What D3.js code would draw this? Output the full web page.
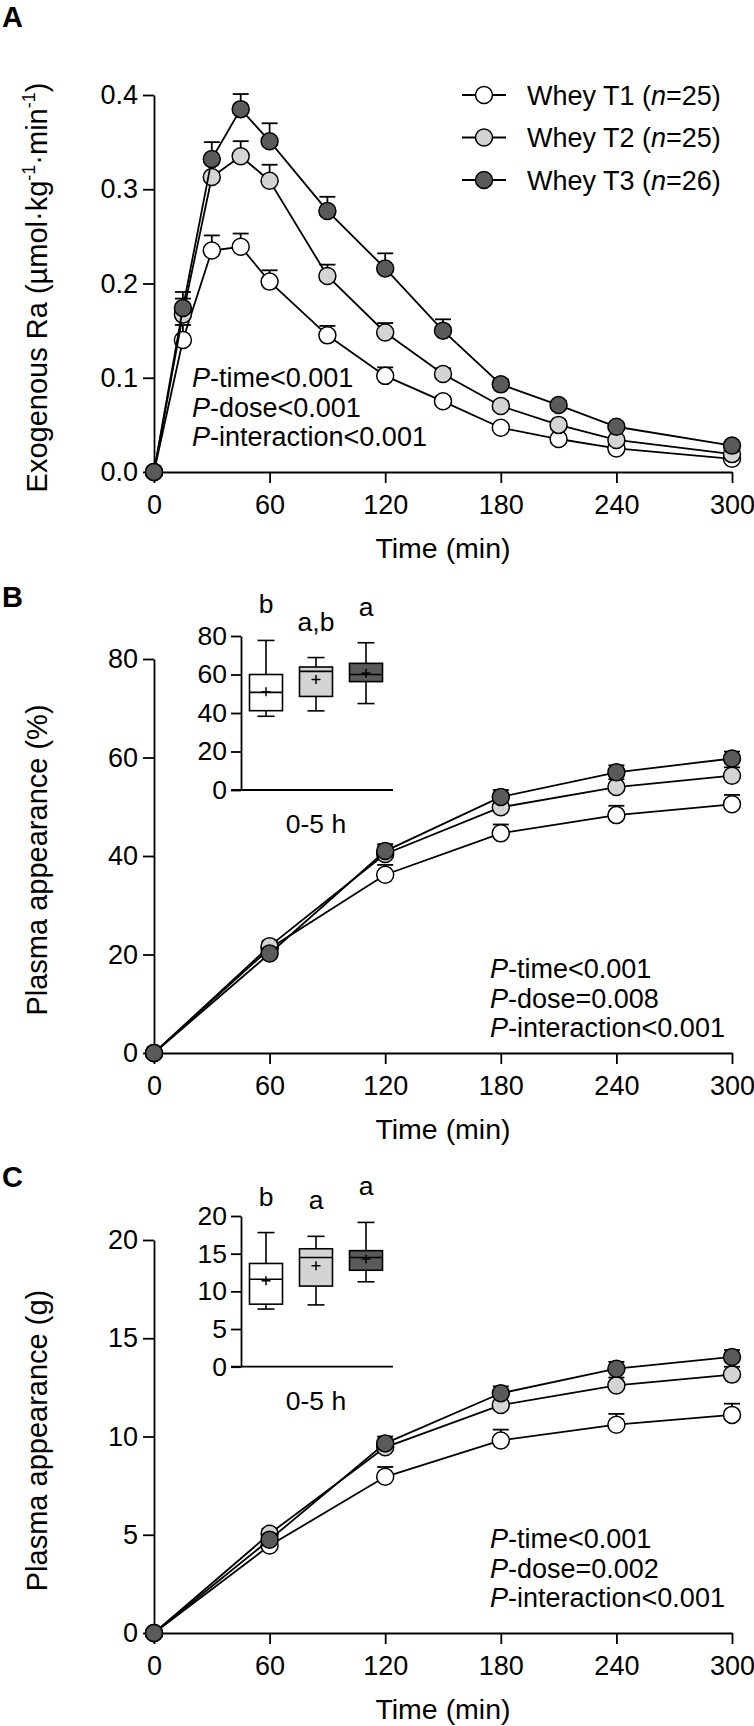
<!DOCTYPE html>
<html>
<head>
<meta charset="utf-8">
<script src="https://cdn.jsdelivr.net/npm/d3@7"></script>
<style>
  body { margin: 0; background: #fff; }
  svg { display: block; font-family: "Liberation Sans", Arial, sans-serif; }
  .axis path, .axis line { stroke: #000; stroke-width: 1.8px; }
  .axis text { fill: #000; }
</style>
</head>
<body>
<script>
// ---- data ----
const groups = ['Whey T1', 'Whey T2', 'Whey T3'];
const groupN = [25, 25, 26];
const fills = ['#ffffff', '#d4d4d4', '#5a5a5a'];

// panel A: exogenous Ra
const timesA = [0, 15, 30, 45, 60, 90, 120, 150, 180, 210, 240, 300];
const raT1 = [0, 0.140, 0.235, 0.239, 0.202, 0.145, 0.102, 0.075, 0.047, 0.035, 0.025, 0.014];
const raT2 = [0, 0.167, 0.313, 0.335, 0.309, 0.208, 0.148, 0.104, 0.070, 0.050, 0.034, 0.019];
const raT3 = [0, 0.174, 0.332, 0.385, 0.351, 0.277, 0.216, 0.150, 0.093, 0.071, 0.048, 0.028];
const raSemT1 = [0, 0.016, 0.016, 0.014, 0.012, 0.010, 0.009, 0.005, 0.003, 0.003, 0.003, 0.002];
const raSemT2 = [0, 0.017, 0.017, 0.016, 0.017, 0.012, 0.010, 0.006, 0.005, 0.004, 0.003, 0.002];
const raSemT3 = [0, 0.017, 0.018, 0.016, 0.019, 0.015, 0.016, 0.012, 0.005, 0.004, 0.003, 0.002];

// panels B and C: cumulative plasma appearance
const timesBC = [0, 60, 120, 180, 240, 300];
const pctT1 = [0, 21.2, 36.2, 44.6, 48.3, 50.5];
const pctT2 = [0, 21.7, 40.4, 49.9, 54.0, 56.3];
const pctT3 = [0, 20.2, 41.0, 52.0, 57.0, 59.8];
const pctSemT1 = [0, 1.0, 2.0, 1.8, 1.9, 1.9];
const pctSemT2 = [0, 1.0, 1.5, 1.6, 1.6, 1.7];
const pctSemT3 = [0, 1.0, 1.4, 1.4, 1.4, 1.4];

const gT1 = [0, 4.45, 7.95, 9.8, 10.6, 11.1];
const gT2 = [0, 5.05, 9.45, 11.6, 12.6, 13.15];
const gT3 = [0, 4.75, 9.65, 12.2, 13.45, 14.05];
const gSemT1 = [0, 0.25, 0.5, 0.55, 0.55, 0.57];
const gSemT2 = [0, 0.25, 0.35, 0.4, 0.4, 0.4];
const gSemT3 = [0, 0.25, 0.35, 0.35, 0.35, 0.35];

// inset box plots: [min, q1, median, q3, max, mean]
const boxPct = [[38.3, 41.2, 50.7, 60.0, 77.7, 51.0], [41.1, 48.6, 61.6, 63.9, 68.8, 57.4], [44.9, 56.3, 60.0, 65.8, 76.5, 60.7]];
const boxG = [[7.65, 8.3, 11.6, 13.7, 17.8, 11.4], [8.2, 10.7, 14.5, 15.65, 17.3, 13.4], [11.27, 12.8, 14.5, 15.4, 19.15, 14.3]];
const lettersPct = ['b', 'a,b', 'a'];
const lettersG = ['b', 'a', 'a'];

const xTicks = [0, 60, 120, 180, 240, 300];

// ---- chart ----
const w = 754, h = 1726;
const svg = d3.select('body').append('svg').attr('width', w).attr('height', h);
const x = d3.scaleLinear().domain([0, 300]).range([154, 732]);

function pText(g, px, py, lines) {
    lines.forEach((t, i) => {
        const txt = g.append('text').attr('x', px).attr('y', py + i * 29.5).attr('font-size', 27);
        txt.append('tspan').attr('font-style', 'italic').text('P');
        txt.append('tspan').text(t);
    });
}

function linePanel(cfg) {
    const y = d3.scaleLinear().domain(cfg.domain).range(cfg.range);
    const g = svg.append('g');

    const xa = g.append('g').attr('class', 'axis').attr('transform', `translate(0,${cfg.range[0]})`)
        .call(d3.axisBottom(x).tickValues(xTicks).tickSize(11).tickSizeOuter(0).tickPadding(12));
    const ya = g.append('g').attr('class', 'axis').attr('transform', `translate(${x(0)},0)`)
        .call(d3.axisLeft(y).tickValues(cfg.ticks).tickFormat(cfg.fmt).tickSize(11).tickSizeOuter(0).tickPadding(5));
    [xa, ya].forEach(a => a.attr('font-family', null).attr('font-size', null).selectAll('text').attr('font-size', 27));

    g.append('text').attr('x', (x.range()[0] + x.range()[1]) / 2).attr('y', cfg.range[0] + 86)
        .attr('text-anchor', 'middle').attr('font-size', 28.5).text('Time (min)');

    const ty = (cfg.range[0] + cfg.range[1]) / 2 + 4;
    const title = g.append('text').attr('transform', `translate(47,${ty}) rotate(-90)`)
        .attr('text-anchor', 'middle').attr('font-size', 29);
    cfg.title(title);

    g.append('text').attr('x', 2).attr('y', cfg.letterY).attr('font-size', 29).attr('font-weight', 'bold').text(cfg.letter);

    const line = d3.line().x((d, i) => x(cfg.times[i])).y(d => y(d));
    cfg.means.forEach((m, s) => {
        const sg = g.append('g');
        sg.append('path').attr('d', line(m)).attr('fill', 'none').attr('stroke', '#000').attr('stroke-width', 1.8);
        const pts = m.map((v, i) => ({ t: cfg.times[i], v, e: cfg.sems[s][i] })).filter(d => d.e > 0);
        sg.selectAll('line.eb').data(pts).enter().append('line')
            .attr('x1', d => x(d.t)).attr('x2', d => x(d.t))
            .attr('y1', d => y(d.v)).attr('y2', d => y(d.v + d.e))
            .attr('stroke', '#000').attr('stroke-width', 1.8);
        sg.selectAll('line.cap').data(pts).enter().append('line')
            .attr('x1', d => x(d.t) - 8).attr('x2', d => x(d.t) + 8)
            .attr('y1', d => y(d.v + d.e)).attr('y2', d => y(d.v + d.e))
            .attr('stroke', '#000').attr('stroke-width', 1.8);
        sg.selectAll('circle').data(m).enter().append('circle')
            .attr('cx', (d, i) => x(cfg.times[i])).attr('cy', d => y(d)).attr('r', 8.5)
            .attr('fill', fills[s]).attr('stroke', '#000').attr('stroke-width', 1.5);
    });

    pText(g, cfg.pX, cfg.pY, cfg.pLines);
    return g;
}

function inset(cfg) {
    const y = d3.scaleLinear().domain(cfg.domain).range(cfg.range);
    const bx = d3.scaleBand().domain(groups).range([241, 391]);
    const g = svg.append('g');
    const ya = g.append('g').attr('class', 'axis').attr('transform', 'translate(241,0)')
        .call(d3.axisLeft(y).tickValues(cfg.ticks).tickSize(10).tickSizeOuter(0).tickPadding(4));
    ya.attr('font-family', null).attr('font-size', null).selectAll('text').attr('font-size', 26.5);
    g.append('line').attr('x1', 231).attr('x2', 393).attr('y1', y(0)).attr('y2', y(0))
        .attr('stroke', '#000').attr('stroke-width', 1.8);
    g.append('text').attr('x', 316).attr('y', cfg.range[0] + 43).attr('text-anchor', 'middle')
        .attr('font-size', 26.5).text('0-5 h');

    cfg.boxes.forEach((b, i) => {
        const cx = bx(groups[i]) + bx.bandwidth() / 2;
        const bw = 33, cw = 17;
        const bg = g.append('g').attr('stroke', '#000').attr('stroke-width', 1.6);
        bg.append('line').attr('x1', cx).attr('x2', cx).attr('y1', y(b[0])).attr('y2', y(b[4]));
        bg.append('line').attr('x1', cx - cw / 2).attr('x2', cx + cw / 2).attr('y1', y(b[0])).attr('y2', y(b[0]));
        bg.append('line').attr('x1', cx - cw / 2).attr('x2', cx + cw / 2).attr('y1', y(b[4])).attr('y2', y(b[4]));
        bg.append('rect').attr('x', cx - bw / 2).attr('width', bw).attr('y', y(b[3])).attr('height', y(b[1]) - y(b[3]))
            .attr('fill', fills[i]);
        bg.append('line').attr('x1', cx - bw / 2).attr('x2', cx + bw / 2).attr('y1', y(b[2])).attr('y2', y(b[2]));
        bg.append('line').attr('x1', cx - 4.5).attr('x2', cx + 4.5).attr('y1', y(b[5])).attr('y2', y(b[5])).attr('stroke-width', 1.5);
        bg.append('line').attr('x1', cx).attr('x2', cx).attr('y1', y(b[5]) - 4.5).attr('y2', y(b[5]) + 4.5).attr('stroke-width', 1.5);
        g.append('text').attr('x', cx).attr('y', y(b[4]) - 27).attr('text-anchor', 'middle')
            .attr('font-size', 26.5).text(cfg.letters[i]);
    });
}

// panel A
linePanel({
    letter: 'A', letterY: 27,
    domain: [0, 0.4], range: [472, 95], ticks: [0, 0.1, 0.2, 0.3, 0.4], fmt: d3.format('.1f'),
    times: timesA, means: [raT1, raT2, raT3], sems: [raSemT1, raSemT2, raSemT3],
    title: t => {
        t.append('tspan').text('Exogenous Ra (µmol·kg');
        t.append('tspan').attr('font-size', 18).attr('dy', -12).text('-1');
        t.append('tspan').attr('dy', 12).text('·min');
        t.append('tspan').attr('font-size', 18).attr('dy', -12).text('-1');
        t.append('tspan').attr('dy', 12).text(')');
    },
    pX: 192, pY: 387, pLines: ['-time<0.001', '-dose<0.001', '-interaction<0.001']
});

// legend
const legend = svg.append('g');
const legendRow = legend.selectAll('g').data(groups).enter().append('g')
    .attr('transform', (d, i) => `translate(0,${95 + i * 42.5})`);
legendRow.append('line').attr('x1', 462).attr('x2', 506).attr('stroke', '#000').attr('stroke-width', 1.8);
legendRow.append('circle').attr('cx', 484).attr('r', 8.5).attr('fill', (d, i) => fills[i])
    .attr('stroke', '#000').attr('stroke-width', 1.5);
const legendText = legendRow.append('text').attr('x', 527).attr('y', 9.5).attr('font-size', 27);
legendText.append('tspan').text(d => d + ' (');
legendText.append('tspan').attr('font-style', 'italic').text('n');
legendText.append('tspan').text((d, i) => '=' + groupN[i] + ')');

// panel B
linePanel({
    letter: 'B', letterY: 607,
    domain: [0, 80], range: [1053, 659], ticks: [0, 20, 40, 60, 80], fmt: d3.format('d'),
    times: timesBC, means: [pctT1, pctT2, pctT3], sems: [pctSemT1, pctSemT2, pctSemT3],
    title: t => t.text('Plasma appearance (%)'),
    pX: 490, pY: 978, pLines: ['-time<0.001', '-dose=0.008', '-interaction<0.001']
});
inset({ domain: [0, 80], range: [790, 636], ticks: [0, 20, 40, 60, 80], boxes: boxPct, letters: lettersPct });

// panel C
linePanel({
    letter: 'C', letterY: 1187,
    domain: [0, 20], range: [1633, 1240], ticks: [0, 5, 10, 15, 20], fmt: d3.format('d'),
    times: timesBC, means: [gT1, gT2, gT3], sems: [gSemT1, gSemT2, gSemT3],
    title: t => t.text('Plasma appearance (g)'),
    pX: 490, pY: 1548, pLines: ['-time<0.001', '-dose=0.002', '-interaction<0.001']
});
inset({ domain: [0, 20], range: [1366.7, 1216], ticks: [0, 5, 10, 15, 20], boxes: boxG, letters: lettersG });
</script>
</body>
</html>
